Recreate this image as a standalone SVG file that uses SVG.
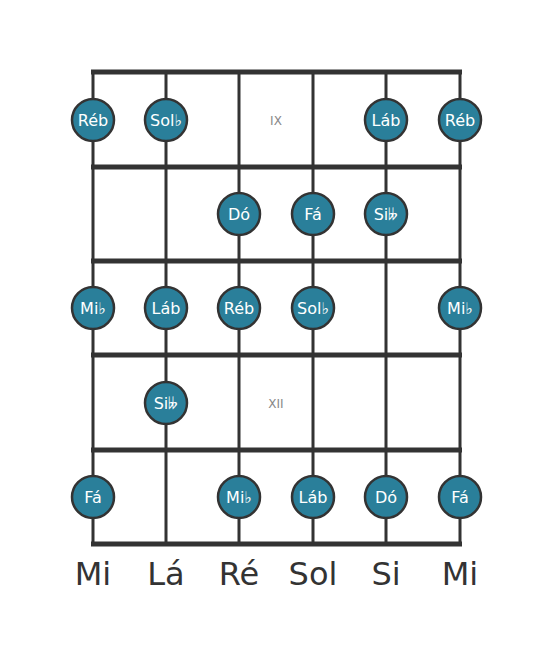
<svg xmlns="http://www.w3.org/2000/svg" width="553" height="656" viewBox="0 0 553 656">
<style>
.s{stroke:#333;stroke-width:3;fill:none}
.f{stroke:#333;stroke-width:5;fill:none}
.n circle{fill:#2a7f9a;stroke:#333;stroke-width:2.5}
.n text{fill:#fff;font-family:"DejaVu Sans",sans-serif;font-size:16px;text-anchor:middle;dominant-baseline:central}
.lab{fill:#333;font-family:"DejaVu Sans",sans-serif;font-size:32px;text-anchor:middle}
.fr{fill:#888;font-family:"DejaVu Sans",sans-serif;font-size:12px;text-anchor:middle;dominant-baseline:central}
</style>
<rect width="553" height="656" fill="#fff"/>
<g id="connectors">
<line class="s" x1="93" y1="72" x2="93" y2="544"/>
<line class="s" x1="166" y1="72" x2="166" y2="544"/>
<line class="s" x1="239" y1="72" x2="239" y2="544"/>
<line class="s" x1="313" y1="72" x2="313" y2="544"/>
<line class="s" x1="386" y1="72" x2="386" y2="544"/>
<line class="s" x1="460" y1="72" x2="460" y2="544"/>
<line class="f" x1="91" y1="72" x2="462" y2="72"/>
<line class="f" x1="91" y1="167" x2="462" y2="167"/>
<line class="f" x1="91" y1="261" x2="462" y2="261"/>
<line class="f" x1="91" y1="355" x2="462" y2="355"/>
<line class="f" x1="91" y1="450" x2="462" y2="450"/>
<line class="f" x1="91" y1="544" x2="462" y2="544"/>
</g>
<text class="fr" x="276" y="121">IX</text>
<text class="fr" x="276" y="404">XII</text>
<g id="n1" class="n"><circle cx="93" cy="120" r="21"/><text x="93" y="120">Réb</text></g>
<g id="n2" class="n"><circle cx="166" cy="120" r="21"/><text x="166" y="120">Sol♭</text></g>
<g id="n3" class="n"><circle cx="386" cy="120" r="21"/><text x="386" y="120">Láb</text></g>
<g id="n4" class="n"><circle cx="460" cy="120" r="21"/><text x="460" y="120">Réb</text></g>
<g id="n5" class="n"><circle cx="239" cy="214" r="21"/><text x="239" y="214">Dó</text></g>
<g id="n6" class="n"><circle cx="313" cy="214" r="21"/><text x="313" y="214">Fá</text></g>
<g id="n7" class="n"><circle cx="386" cy="214" r="21"/><text x="386" y="214">Si&#x1D12B;</text></g>
<g id="n8" class="n"><circle cx="93" cy="308" r="21"/><text x="93" y="308">Mi♭</text></g>
<g id="n9" class="n"><circle cx="166" cy="308" r="21"/><text x="166" y="308">Láb</text></g>
<g id="n10" class="n"><circle cx="239" cy="308" r="21"/><text x="239" y="308">Réb</text></g>
<g id="n11" class="n"><circle cx="313" cy="308" r="21"/><text x="313" y="308">Sol♭</text></g>
<g id="n12" class="n"><circle cx="460" cy="308" r="21"/><text x="460" y="308">Mi♭</text></g>
<g id="n13" class="n"><circle cx="166" cy="403" r="21"/><text x="166" y="403">Si&#x1D12B;</text></g>
<g id="n14" class="n"><circle cx="93" cy="497" r="21"/><text x="93" y="497">Fá</text></g>
<g id="n15" class="n"><circle cx="239" cy="497" r="21"/><text x="239" y="497">Mi♭</text></g>
<g id="n16" class="n"><circle cx="313" cy="497" r="21"/><text x="313" y="497">Láb</text></g>
<g id="n17" class="n"><circle cx="386" cy="497" r="21"/><text x="386" y="497">Dó</text></g>
<g id="n18" class="n"><circle cx="460" cy="497" r="21"/><text x="460" y="497">Fá</text></g>
<g id="labels">
<text class="lab" x="93" y="585">Mi</text>
<text class="lab" x="166" y="585">Lá</text>
<text class="lab" x="239" y="585">Ré</text>
<text class="lab" x="313" y="585">Sol</text>
<text class="lab" x="386" y="585">Si</text>
<text class="lab" x="460" y="585">Mi</text>
</g>
</svg>
